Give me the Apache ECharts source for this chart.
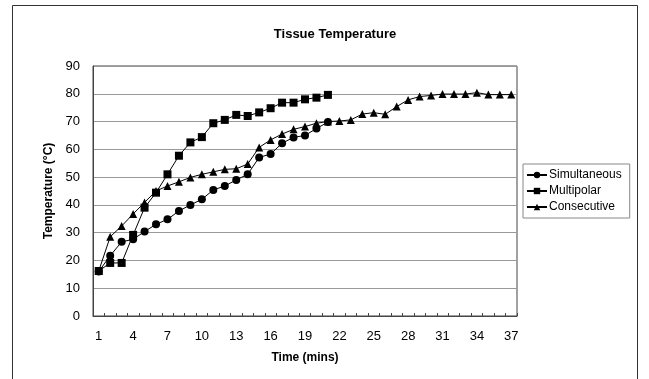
<!DOCTYPE html>
<html><head><meta charset="utf-8">
<script src="https://cdn.jsdelivr.net/npm/echarts@6/dist/echarts.min.js"></script>
<style>html,body{margin:0;padding:0;background:#fff}#c{width:649px;height:379px}</style>
</head><body><div id="c"></div>
<script>
const categories = ['1','2','3','4','5','6','7','8','9','10','11','12','13','14','15','16','17','18','19','20','21','22','23','24','25','26','27','28','29','30','31','32','33','34','35','36','37'];
const simultaneous = [16, 21.7, 26.7, 27.6, 30.4, 33, 34.8, 37.8, 40, 42, 45.4, 46.8, 49, 51, 57.1, 58.3, 62.2, 64.3, 65, 67.5, 69.8];
const multipolar = [16.2, 19.1, 19.1, 29.2, 39, 44.4, 51, 57.7, 62.5, 64.4, 69.4, 70.6, 72.4, 72, 73.3, 74.8, 76.8, 76.8, 78, 78.6, 79.6];
const consecutive = [16.2, 28.5, 32.4, 36.7, 40.9, 45, 46.8, 48.3, 49.9, 51, 51.9, 52.8, 53, 54.7, 60.7, 63.4, 65.5, 67.2, 68.2, 69.4, 70, 70.2, 70.6, 72.7, 73.2, 72.6, 75.4, 77.8, 79, 79.4, 79.9, 79.9, 79.9, 80.4, 79.7, 79.7, 79.7];
const yTicks = {min: 0, max: 90, interval: 10};

const FONT = '"Liberation Sans", Arial, sans-serif';
const chart = echarts.init(document.getElementById('c'), null, {renderer: 'canvas'});
function mk(name, data, symbol, size) {
  return {
    name, type: 'line', data, symbol, symbolSize: size, showAllSymbol: true,
    lineStyle: {color: '#000', width: 1},
    itemStyle: {color: '#000'},
    animation: false
  };
}
chart.setOption({
  animation: false,
  textStyle: {fontFamily: FONT},
  title: {
    text: 'Tissue Temperature', left: 330, top: 23, textAlign: 'center',
    textStyle: {fontFamily: FONT, fontSize: 13, fontWeight: 'bold', color: '#000'}
  },
  graphic: [{
    type: 'rect', shape: {x: 12.5, y: 5.5, width: 625, height: 390},
    style: {fill: null, stroke: '#333', lineWidth: 1}, silent: true
  }],
  grid: {left: 93, right: 132, top: 66, bottom: 63, show: true, borderColor: '#444', borderWidth: 1},
  legend: {
    orient: 'vertical', left: 523, top: 164,
    data: ['Simultaneous', 'Multipolar', 'Consecutive'],
    itemWidth: 20, itemHeight: 8, itemGap: 4,
    padding: [5, 8, 5, 3],
    borderColor: '#888', borderWidth: 1,
    textStyle: {fontFamily: FONT, fontSize: 12, color: '#000', padding: [0, 0, 0, -3]}
  },
  xAxis: {
    type: 'category', data: categories, boundaryGap: true,
    name: 'Time (mins)', nameLocation: 'middle', nameGap: 36,
    nameTextStyle: {fontFamily: FONT, fontSize: 12, fontWeight: 'bold', color: '#000'},
    axisLine: {lineStyle: {color: '#444'}},
    axisTick: {show: true, inside: true, length: 3, interval: 0, lineStyle: {color: '#444'}},
    axisLabel: {interval: 2, margin: 14, fontFamily: FONT, fontSize: 13, color: '#000'},
    splitLine: {show: false}
  },
  yAxis: {
    type: 'value', min: yTicks.min, max: yTicks.max, interval: yTicks.interval,
    name: 'Temperature (°C)', nameLocation: 'middle', nameGap: 37,
    nameTextStyle: {fontFamily: FONT, fontSize: 12, fontWeight: 'bold', color: '#000'},
    axisLine: {show: true, lineStyle: {color: '#444'}},
    axisTick: {show: false},
    axisLabel: {margin: 13, fontFamily: FONT, fontSize: 13, color: '#000'},
    splitLine: {lineStyle: {color: '#999', width: 1}}
  },
  series: [
    mk('Simultaneous', simultaneous, 'circle', 8),
    mk('Multipolar', multipolar, 'rect', 8),
    mk('Consecutive', consecutive, 'triangle', 8)
  ]
});
</script></body></html>
